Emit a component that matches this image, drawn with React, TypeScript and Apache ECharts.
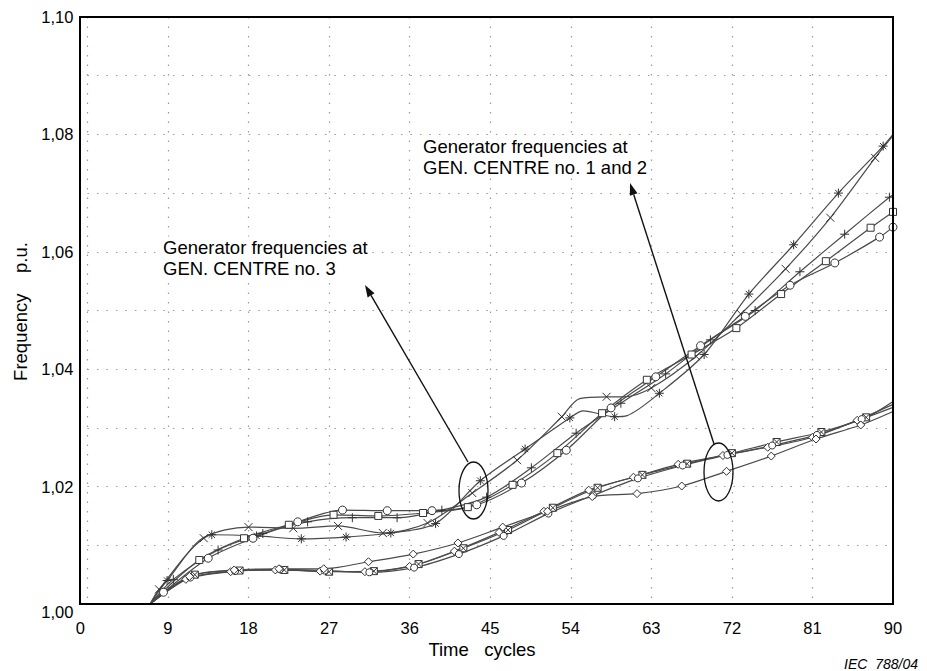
import React, { useEffect, useRef } from "react";
import * as echarts from "echarts";

// ---- axis settings ----
const X_MIN = 0;
const X_MAX = 90;
const X_STEP = 9;
const Y_MIN = 1.0;
const Y_MAX = 1.1;
const Y_STEP = 0.01;

// Points are [x, y] (marker drawn) or [x, y, 0] (no marker on that point).
// ---- upper bundle (curves pointed at by "GEN. CENTRE no. 3") ----
const CURVE_CROSS: number[][] = [
  [7, 1.0, 0], [8, 1.0025], [13, 1.0112], [18, 1.0131], [23, 1.0129], [28, 1.0133],
  [33, 1.0121], [38, 1.0138], [43, 1.0189], [48, 1.0245], [53, 1.0319], [55, 1.035, 0], [58, 1.0353],
  [60, 1.0353, 0], [63, 1.0368], [68, 1.0422], [73, 1.0494], [78, 1.0571], [83, 1.0658], [88, 1.076], [90, 1.0798, 0],
];
const CURVE_STAR: number[][] = [
  [7, 1.0, 0], [8.9, 1.004], [13.9, 1.0118], [18.9, 1.0116], [23.9, 1.0111], [28.9, 1.0114],
  [33.9, 1.0121], [38.9, 1.0137], [43.9, 1.021], [48.9, 1.0264], [53.9, 1.0317], [55.4, 1.0329, 0],
  [58.9, 1.0319], [60.3, 1.0321, 0], [63.9, 1.0359], [68.9, 1.0425], [73.9, 1.0528], [78.9, 1.0612],
  [83.9, 1.07], [88.9, 1.078], [90, 1.08, 0],
];
const CURVE_PLUS: number[][] = [
  [7, 1.0, 0], [9.6, 1.0042], [14.6, 1.0092], [19.6, 1.012], [24.6, 1.014], [29.6, 1.0147],
  [34.6, 1.0147], [39.6, 1.016], [44.6, 1.0182], [49.6, 1.0232], [54.6, 1.0291], [59.6, 1.0342],
  [64.6, 1.0392], [69.6, 1.045], [74.6, 1.05], [79.6, 1.0566], [84.6, 1.063], [89.6, 1.0693], [90, 1.0697, 0],
];
const CURVE_SQUARE: number[][] = [
  [7, 1.0, 0], [12.5, 1.0075], [17.5, 1.0112], [22.5, 1.0135], [27.5, 1.0152], [32.5, 1.015],
  [37.5, 1.0155], [42.5, 1.0165], [47.5, 1.0203], [52.5, 1.0257], [57.5, 1.0325], [62.5, 1.0382],
  [67.5, 1.0425], [72.5, 1.047], [77.5, 1.0528], [82.5, 1.0584], [87.5, 1.0641], [90, 1.0668],
];
const CURVE_CIRCLE: number[][] = [
  [7, 1.0, 0], [8.5, 1.002], [13.5, 1.0078], [18.5, 1.0112], [23.5, 1.014], [28.5, 1.016],
  [33.5, 1.0159], [38.5, 1.0159], [43.5, 1.0169], [48.5, 1.0206], [53.5, 1.0262], [58.5, 1.0334],
  [63.5, 1.0387], [68.5, 1.044], [73.5, 1.049], [78.5, 1.0543], [83.5, 1.0581], [88.5, 1.0625], [90, 1.0642],
];

// ---- lower bundle (curves pointed at by "GEN. CENTRE no. 1 and 2") ----
const LOW_SQX: number[][] = [
  [7, 1.0, 0], [12, 1.005], [17, 1.0057], [22, 1.0058], [27, 1.0055], [32, 1.0056],
  [37, 1.0068], [42, 1.0095], [47, 1.0126], [52, 1.0164], [57, 1.0198], [62, 1.022],
  [67, 1.0239], [72, 1.0257], [77, 1.0276], [82, 1.0293], [87, 1.0318], [90, 1.0345, 0],
];
const LOW_DIAMOND: number[][] = [
  [7, 1.0, 0], [11, 1.0042], [16, 1.0055], [21, 1.0058], [26, 1.0056], [31, 1.0055],
  [36, 1.0064], [41, 1.009], [46, 1.0122], [51, 1.0158], [56, 1.0194], [61, 1.0216],
  [66, 1.0238], [71, 1.0253], [76, 1.0267], [81, 1.0284], [86, 1.0313], [90, 1.034, 0],
];
const LOW_CIRCLE: number[][] = [
  [7, 1.0, 0], [11.5, 1.0045], [16.5, 1.0056], [21.5, 1.0059], [26.5, 1.0057], [31.5, 1.0054],
  [36.5, 1.0062], [41.5, 1.0085], [46.5, 1.0116], [51.5, 1.0154], [56.5, 1.0185], [61.5, 1.0214],
  [66.5, 1.0236], [71.5, 1.0254], [76.5, 1.027], [81.5, 1.0288], [86.5, 1.0315], [90, 1.0335, 0],
];
const LOW_SEPARATE: number[][] = [
  [7, 1.0, 0], [11.4, 1.0047], [16.4, 1.0058], [21.4, 1.006], [26.4, 1.006], [31.4, 1.0072],
  [36.4, 1.0085], [41.4, 1.0104], [46.4, 1.0131], [51.4, 1.0158], [56.4, 1.0183], [61.4, 1.0188],
  [66.4, 1.0201], [71.4, 1.0226], [76.4, 1.0252], [81.4, 1.0281], [86.4, 1.0305], [90, 1.0328, 0],
];

// ---- texts ----
const LABEL_UPPER = "Generator frequencies at\nGEN. CENTRE no. 1 and 2";
const LABEL_LOWER = "Generator frequencies at\nGEN. CENTRE no. 3";
const X_TITLE = "Time   cycles";
const Y_TITLE = "Frequency    p.u.";
const SOURCE = "IEC  788/04";

const SYM_CROSS = "path://M0,0L10,10M10,0L0,10";
const SYM_PLUS = "path://M5,0L5,10M0,5L10,5";
const SYM_STAR = "path://M5,0L5,10M0,5L10,5M1.5,1.5L8.5,8.5M8.5,1.5L1.5,8.5";
const SYM_SQX = "path://M0,0L10,0L10,10L0,10ZM0,0L10,10M10,0L0,10";

const FONT = '"Liberation Sans", Arial, sans-serif';
const INK = "#4a4a4a";

function buildData(points: number[][]) {
  return points.map((p) =>
    p.length > 2 && p[2] === 0 ? { value: [p[0], p[1]], symbol: "none" } : { value: [p[0], p[1]] }
  );
}

function arrow(x1: number, y1: number, x2: number, y2: number) {
  const dx = x2 - x1;
  const dy = y2 - y1;
  const len = Math.hypot(dx, dy);
  const ux = dx / len;
  const uy = dy / len;
  const hl = 12;
  const hw = 4;
  const bx = x2 - ux * hl;
  const by = y2 - uy * hl;
  return [
    { type: "line", z: 20, shape: { x1, y1, x2: bx, y2: by }, style: { stroke: "#111", lineWidth: 1.4 } },
    {
      type: "polygon",
      z: 20,
      shape: { points: [[x2, y2], [bx - uy * hw, by + ux * hw], [bx + uy * hw, by - ux * hw]] },
      style: { fill: "#111" },
    },
  ];
}

export default function App() {
  const ref = useRef<HTMLDivElement>(null);

  useEffect(() => {
    if (!ref.current) return;
    const chart = echarts.init(ref.current, undefined, { renderer: "svg" });

    const seriesDefs = [
      { name: "cross", data: CURVE_CROSS, symbol: SYM_CROSS, size: 8 },
      { name: "star", data: CURVE_STAR, symbol: SYM_STAR, size: 9 },
      { name: "plus", data: CURVE_PLUS, symbol: SYM_PLUS, size: 9 },
      { name: "square", data: CURVE_SQUARE, symbol: "rect", size: 7 },
      { name: "circle", data: CURVE_CIRCLE, symbol: "circle", size: 8 },
      { name: "low-sqx", data: LOW_SQX, symbol: SYM_SQX, size: 7 },
      { name: "low-diamond", data: LOW_DIAMOND, symbol: "diamond", size: 8 },
      { name: "low-circle", data: LOW_CIRCLE, symbol: "circle", size: 7 },
      { name: "low-separate", data: LOW_SEPARATE, symbol: "diamond", size: 8 },
    ];

    const gridLeft = 87.4;
    const gridTop = 17;
    const gridRight = 893;
    const gridBottom = 604;

    chart.setOption({
      animation: false,
      backgroundColor: "#fff",
      grid: { left: gridLeft, top: gridTop, right: 927 - gridRight, bottom: 671 - gridBottom, containLabel: false },
      xAxis: {
        type: "value",
        min: X_MIN,
        max: X_MAX,
        interval: X_STEP,
        axisLine: { show: false },
        axisTick: { show: false },
        splitLine: { show: true, lineStyle: { type: [1.5, 8], color: "#9a9a9a", width: 1.2 } },
        axisLabel: {
          margin: 15,
          color: "#000",
          fontSize: 16.5,
          fontFamily: FONT,
          formatter: (v: number) => (v === 0 ? "{z|0}" : String(v)),
          rich: { z: { padding: [0, 14, 0, 0], fontSize: 16.5, fontFamily: FONT, color: "#000" } },
        },
      },
      yAxis: {
        type: "value",
        min: Y_MIN,
        max: Y_MAX,
        interval: Y_STEP,
        axisLine: { show: false },
        axisTick: { show: false },
        splitLine: { show: true, lineStyle: { type: [1.5, 8], color: "#9a9a9a", width: 1.2 } },
        axisLabel: {
          margin: 14,
          color: "#000",
          fontSize: 16.5,
          fontFamily: FONT,
          formatter: (v: number) => {
            const k = Math.round(v * 100);
            if (k % 2 !== 0) return "";
            const s = (k / 100).toFixed(2).replace(".", ",");
            return k === 100 ? `{b|${s}}` : s;
          },
          rich: { b: { padding: [16, 0, 0, 0], fontSize: 16.5, fontFamily: FONT, color: "#000" } },
        },
      },
      series: seriesDefs.map((s) => ({
        type: "line",
        name: s.name,
        data: buildData(s.data),
        smooth: 0.3,
        symbol: s.symbol,
        symbolSize: s.size,
        showSymbol: true,
        lineStyle: { color: INK, width: 1.2 },
        itemStyle: { color: "#fff", borderColor: "#333", borderWidth: 1 },
        emphasis: { disabled: true },
        silent: true,
        z: 3,
      })),
      graphic: [
        {
          type: "rect",
          z: 30,
          shape: { x: 80, y: gridTop, width: gridRight - 80, height: gridBottom - gridTop },
          style: { fill: "none", stroke: "#000", lineWidth: 2 },
        },
        {
          type: "ellipse",
          z: 20,
          shape: { cx: 473.5, cy: 490.5, rx: 14.5, ry: 28.5 },
          style: { fill: "none", stroke: "#111", lineWidth: 1.3 },
        },
        {
          type: "ellipse",
          z: 20,
          shape: { cx: 718.5, cy: 472, rx: 14.5, ry: 29 },
          style: { fill: "none", stroke: "#111", lineWidth: 1.3 },
        },
        ...arrow(468, 462, 365, 285),
        ...arrow(714, 444, 630, 183),
        {
          type: "text",
          z: 20,
          x: 423,
          y: 136,
          style: { text: LABEL_UPPER, font: `18.5px ${FONT}`, fill: "#000", lineHeight: 21, backgroundColor: "#fff" },
        },
        {
          type: "text",
          z: 20,
          x: 163,
          y: 236.5,
          style: { text: LABEL_LOWER, font: `18.5px ${FONT}`, fill: "#000", lineHeight: 21, backgroundColor: "#fff" },
        },
        {
          type: "text",
          z: 20,
          x: 482,
          y: 649,
          style: { text: X_TITLE, font: `18.5px ${FONT}`, fill: "#000", align: "center", verticalAlign: "middle" },
        },
        {
          type: "text",
          z: 20,
          x: 20,
          y: 311.5,
          rotation: Math.PI / 2,
          style: { text: Y_TITLE, font: `18.5px ${FONT}`, fill: "#000", align: "center", verticalAlign: "middle" },
        },
        {
          type: "text",
          z: 20,
          x: 918,
          y: 664,
          style: { text: SOURCE, font: `italic 14px ${FONT}`, fill: "#000", align: "right", verticalAlign: "middle" },
        },
      ],
    });

    return () => chart.dispose();
  }, []);

  return (
    <div
      ref={ref}
      style={{ position: "absolute", left: 0, top: 0, width: 927, height: 671, background: "#fff" }}
    />
  );
}
